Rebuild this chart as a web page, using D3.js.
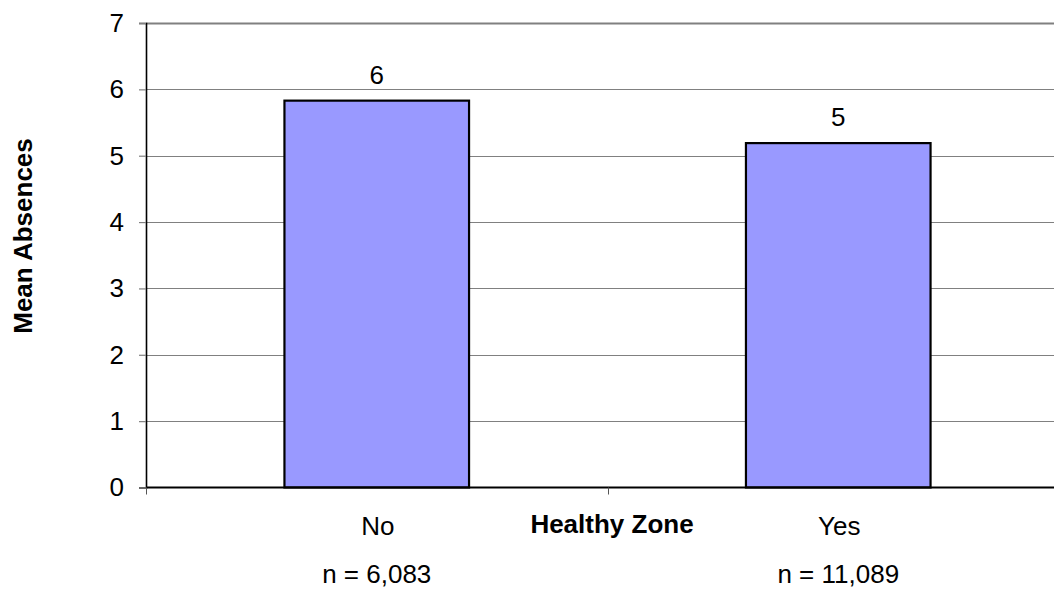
<!DOCTYPE html>
<html>
<head>
<meta charset="utf-8">
<script src="https://cdn.jsdelivr.net/npm/d3@7"></script>
<style>
  html, body { margin: 0; padding: 0; background: #fff; }
  svg { display: block; }
  text { font-family: Arial, "Liberation Sans", sans-serif; fill: #000; }
</style>
</head>
<body>
<svg id="chart" width="1054" height="589"></svg>
<script>
const categories = ["No", "Yes"];
const meanAbsences = [5.83, 5.19];
const valueLabels = ["6", "5"];
const sampleSizes = ["n = 6,083", "n = 11,089"];
const yTicks = [0, 1, 2, 3, 4, 5, 6, 7];
const xTitle = "Healthy Zone";
const yTitle = "Mean Absences";

(function () {
const svg = d3.select("#chart");
const plotLeft = 146, plotRight = 1069, plotTop = 23, plotBottom = 487.5;

const x = d3.scaleBand().domain(categories).range([plotLeft, plotRight]).paddingInner(0.6).paddingOuter(0.3);
const y = d3.scaleLinear().domain([0, 7]).range([plotBottom, plotTop]);

// gridlines
svg.append("g").selectAll("line").data(yTicks.filter(d => d > 0)).join("line")
  .attr("x1", plotLeft).attr("x2", 1054)
  .attr("y1", d => Math.round(y(d)) + 0.5).attr("y2", d => Math.round(y(d)) + 0.5)
  .attr("stroke", "#808080").attr("stroke-width", d => d === 7 ? 2 : 1.2);

// y axis
const yAxis = d3.axisLeft(y).tickValues(yTicks).tickSize(7).tickPadding(15).tickFormat(d3.format("d"));
const gy = svg.append("g").attr("transform", `translate(${plotLeft},0)`).call(yAxis);
gy.select(".domain").attr("stroke", "#000").attr("stroke-width", 1.6);
gy.selectAll(".tick line").attr("stroke", "#808080").attr("stroke-width", 1.2);
gy.selectAll(".tick text").attr("font-size", 26).attr("font-family", "Arial, 'Liberation Sans', sans-serif").attr("fill", "#000");

// bars
svg.append("g").selectAll("rect").data(categories).join("rect")
  .attr("x", d => x(d))
  .attr("y", (d, i) => y(meanAbsences[i]))
  .attr("width", x.bandwidth())
  .attr("height", (d, i) => y(0) - y(meanAbsences[i]))
  .attr("fill", "#9999FF").attr("stroke", "#000").attr("stroke-width", 2.2);

// value labels
svg.append("g").selectAll("text").data(categories).join("text")
  .attr("x", d => x(d) + x.bandwidth() / 2)
  .attr("y", (d, i) => y(meanAbsences[i]) - 17)
  .attr("text-anchor", "middle").attr("font-size", 26)
  .text((d, i) => valueLabels[i]);

// x axis baseline
svg.append("line").attr("x1", plotLeft).attr("x2", 1054).attr("y1", plotBottom).attr("y2", plotBottom)
  .attr("stroke", "#000").attr("stroke-width", 2);
// x ticks at category boundaries
const boundaries = [plotLeft, (x("No") + x.bandwidth() + x("Yes")) / 2, plotRight];
svg.append("g").selectAll("line").data(boundaries).join("line")
  .attr("x1", d => Math.round(d) + 0.5).attr("x2", d => Math.round(d) + 0.5)
  .attr("y1", plotBottom).attr("y2", plotBottom + 7)
  .attr("stroke", "#555").attr("stroke-width", 1);

// category labels
svg.append("g").selectAll("text").data(categories).join("text")
  .attr("x", d => x(d) + x.bandwidth() / 2 + 1)
  .attr("y", 535)
  .attr("text-anchor", "middle").attr("font-size", 26)
  .text(d => d);

svg.append("g").selectAll("text").data(categories).join("text")
  .attr("x", d => x(d) + x.bandwidth() / 2)
  .attr("y", 583)
  .attr("text-anchor", "middle").attr("font-size", 26)
  .text((d, i) => sampleSizes[i]);

// axis titles
svg.append("text").attr("x", 612).attr("y", 533)
  .attr("text-anchor", "middle").attr("font-size", 26).attr("font-weight", "bold")
  .text(xTitle);

svg.append("text").attr("transform", "translate(32,236) rotate(-90)")
  .attr("text-anchor", "middle").attr("font-size", 26).attr("font-weight", "bold")
  .text(yTitle);
})();
</script>
</body>
</html>
